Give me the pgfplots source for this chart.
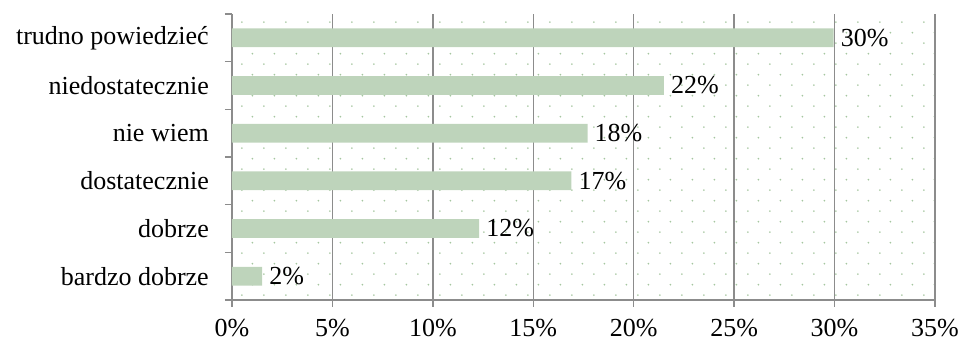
\documentclass[border=0pt]{standalone}
\usepackage{pgfplots}
\pgfplotsset{compat=1.18}
\usepackage{fontspec}
\setmainfont{Liberation Serif}
\usetikzlibrary{patterns.meta}
\definecolor{barc}{RGB}{190,212,187}
\definecolor{dotc}{RGB}{165,198,160}
\definecolor{gridc}{RGB}{140,140,140}
\tikzdeclarepattern{
  name=ldots,
  type=uncolored,
  bounding box={(0pt,0pt) and (21.5pt,21.4pt)},
  tile size={(21.5pt,21.4pt)},
  code={
    \fill (5pt,5pt) circle (1pt);
    \fill (15.75pt,15.7pt) circle (1pt);
  }
}
\pgfplotstableread{
y val label
0 1.5 2
1 12.3 12
2 16.9 17
3 17.7 18
4 21.5 22
5 29.95 30
}\datatab
\begin{document}
\begin{tikzpicture}[font=\fontsize{26}{31}\selectfont]
\path[use as bounding box] (-232pt,-42pt) rectangle (727pt,300pt);
\begin{axis}[
  at={(0pt,0pt)}, anchor=south west,
  scale only axis, width=703pt, height=286pt,
  xbar, bar width=18.7pt,
  xmin=0, xmax=35, ymin=-0.5, ymax=5.5,
  xtick={0,5,...,35},
  xticklabels={0\%,5\%,10\%,15\%,20\%,25\%,30\%,35\%},
  ytick={-0.5,0.5,...,5.5},
  y tick label as interval,
  yticklabels={bardzo dobrze,dobrze,dostatecznie,nie wiem,niedostatecznie,trudno powiedzieć},
  axis x line*=bottom, axis y line*=left,
  axis line style={gridc, line width=1.3pt, -},
  tick align=outside, major tick length=7pt,
  tick style={gridc, line width=1.3pt},
  xmajorgrids, grid style={gridc, line width=1.3pt},
  axis background/.style={pattern=ldots, pattern color=dotc},
  xticklabel style={font=\fontsize{26}{31}\selectfont, anchor=north, inner sep=0pt, yshift=-12pt},
  yticklabel style={font=\fontsize{26}{31}\selectfont, anchor=east, inner sep=0pt, xshift=-16pt},
  point meta=explicit symbolic,
  nodes near coords={\pgfplotspointmeta\%},
  nodes near coords style={font=\fontsize{26}{31}\selectfont, anchor=west, inner sep=0pt, xshift=7pt, text=black},
]
\addplot[draw=none, fill=barc] table[x=val, y=y, meta=label] {\datatab};
\end{axis}
\end{tikzpicture}
\end{document}
